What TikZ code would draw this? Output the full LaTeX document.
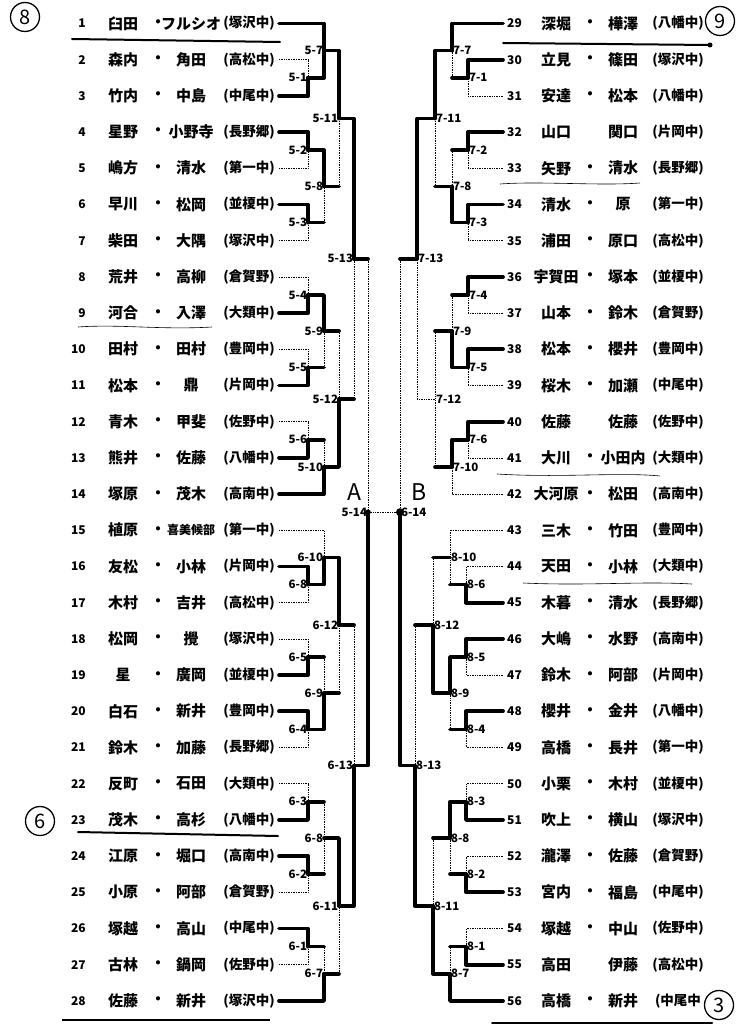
\documentclass[tikz,border=0pt]{standalone}
\usepackage{fontspec}
\setmainfont{Noto Sans CJK JP}
\usetikzlibrary{calc}
\pgfmathdeclarefunction{ry}{1}{\pgfmathparse{23.5+(#1-1)*36.2}}
\tikzset{
  win/.style={line width=3.7pt, line join=round, line cap=round},
  lose/.style={line width=0.7pt, densely dotted},
  num/.style={font=\fontsize{12}{12}\selectfont\bfseries, inner sep=0pt},
  nm/.style={font=\fontsize{15}{15}\selectfont\bfseries, inner sep=0pt},
  sc/.style={font=\fontsize{13.5}{14}\selectfont\bfseries, inner sep=0pt},
  lab/.style={font=\fontsize{11.5}{12}\selectfont\bfseries, inner sep=0.8pt},
  hand/.style={line width=2pt, line cap=round},
  thinhand/.style={line width=0.6pt},
  ring/.style={circle, draw, line width=1.3pt, minimum size=29pt, inner sep=0pt, font=\fontsize{20}{20}\selectfont},
  big/.style={font=\fontsize{23}{23}\selectfont, inner sep=0pt}
}
\newcommand\lrow[5]{%
  \node[num,anchor=east] (ln#1) at (86,{ry(#1)}) {#1};
  \node[nm] (la#1) at (123,{ry(#1)}) {#2};
  \node[nm] (ld#1) at (158,{ry(#1)}) {#3};
  \node[nm] (lb#1) at (191,{ry(#1)}) {#4};
  \node[sc] (ls#1) at (249,{ry(#1)}) {#5};
  \coordinate (e#1) at (279,{ry(#1)});}
\newcommand\rrow[5]{%
  \node[num,anchor=west] (ln#1) at (507,{ry(#1-28)}) {#1};
  \node[nm] (la#1) at (556,{ry(#1-28)}) {#2};
  \node[nm] (ld#1) at (590,{ry(#1-28)}) {#3};
  \node[nm] (lb#1) at (623,{ry(#1-28)}) {#4};
  \node[sc] (ls#1) at (678,{ry(#1-28)}) {#5};
  \coordinate (e#1) at (503,{ry(#1-28)});}
\newcommand\feed[3]{\draw[#1] (#2) -| (#3);}
\newcommand\feedd[4]{\draw[#1] (#3) -- (#3 -| #4); \draw[#2] (#3 -| #4) -- (#4);}
\newcommand\lmatch[4]{\coordinate (m#1) at (#2,{ry(#3)}); \node[lab,anchor=east] (t#1) at (m#1) {#4};}
\newcommand\rmatch[4]{\coordinate (m#1) at (#2,{ry(#3)}); \node[lab,anchor=west] (t#1) at (m#1) {#4};}
\begin{document}
\begin{tikzpicture}[x=1pt,y=-1pt]
\useasboundingbox (0,0) rectangle (747,1027);
% ---------- left entries ----------
\lrow{1}{臼田}{・}{フルシオ}{(塚沢中)}
\lrow{2}{森内}{・}{角田}{(高松中)}
\lrow{3}{竹内}{・}{中島}{(中尾中)}
\lrow{4}{星野}{・}{小野寺}{(長野郷)}
\lrow{5}{嶋方}{・}{清水}{(第一中)}
\lrow{6}{早川}{・}{松岡}{(並榎中)}
\lrow{7}{柴田}{・}{大隅}{(塚沢中)}
\lrow{8}{荒井}{・}{高柳}{(倉賀野)}
\lrow{9}{河合}{・}{入澤}{(大類中)}
\lrow{10}{田村}{・}{田村}{(豊岡中)}
\lrow{11}{松本}{・}{鼎}{(片岡中)}
\lrow{12}{青木}{・}{甲斐}{(佐野中)}
\lrow{13}{熊井}{・}{佐藤}{(八幡中)}
\lrow{14}{塚原}{・}{茂木}{(高南中)}
\lrow{15}{植原}{・}{{\fontsize{12}{12}\selectfont 喜美候部}}{(第一中)}
\lrow{16}{友松}{・}{小林}{(片岡中)}
\lrow{17}{木村}{・}{吉井}{(高松中)}
\lrow{18}{松岡}{・}{攪}{(塚沢中)}
\lrow{19}{星}{・}{廣岡}{(並榎中)}
\lrow{20}{白石}{・}{新井}{(豊岡中)}
\lrow{21}{鈴木}{・}{加藤}{(長野郷)}
\lrow{22}{反町}{・}{石田}{(大類中)}
\lrow{23}{茂木}{・}{高杉}{(八幡中)}
\lrow{24}{江原}{・}{堀口}{(高南中)}
\lrow{25}{小原}{・}{阿部}{(倉賀野)}
\lrow{26}{塚越}{・}{高山}{(中尾中)}
\lrow{27}{古林}{・}{鍋岡}{(佐野中)}
\lrow{28}{佐藤}{・}{新井}{(塚沢中)}
% ---------- right entries ----------
\rrow{29}{深堀}{・}{樺澤}{(八幡中)}
\rrow{30}{立見}{・}{篠田}{(塚沢中)}
\rrow{31}{安達}{・}{松本}{(八幡中)}
\rrow{32}{山口}{}{関口}{(片岡中)}
\rrow{33}{矢野}{・}{清水}{(長野郷)}
\rrow{34}{清水}{・}{原}{(第一中)}
\rrow{35}{浦田}{・}{原口}{(高松中)}
\rrow{36}{宇賀田}{・}{塚本}{(並榎中)}
\rrow{37}{山本}{・}{鈴木}{(倉賀野)}
\rrow{38}{松本}{・}{櫻井}{(豊岡中)}
\rrow{39}{桜木}{・}{加瀬}{(中尾中)}
\rrow{40}{佐藤}{}{佐藤}{(佐野中)}
\rrow{41}{大川}{・}{小田内}{(大類中)}
\rrow{42}{大河原}{・}{松田}{(高南中)}
\rrow{43}{三木}{・}{竹田}{(豊岡中)}
\rrow{44}{天田}{・}{小林}{(大類中)}
\rrow{45}{木暮}{・}{清水}{(長野郷)}
\rrow{46}{大嶋}{・}{水野}{(高南中)}
\rrow{47}{鈴木}{・}{阿部}{(片岡中)}
\rrow{48}{櫻井}{・}{金井}{(八幡中)}
\rrow{49}{高橋}{・}{長井}{(第一中)}
\rrow{50}{小栗}{・}{木村}{(並榎中)}
\rrow{51}{吹上}{・}{横山}{(塚沢中)}
\rrow{52}{瀧澤}{・}{佐藤}{(倉賀野)}
\rrow{53}{宮内}{・}{福島}{(中尾中)}
\rrow{54}{塚越}{・}{中山}{(佐野中)}
\rrow{55}{高田}{}{伊藤}{(高松中)}
\rrow{56}{高橋}{・}{新井}{(中尾中}
% ---------- left matches ----------
\lmatch{51}{308}{2.5}{5-1}
\lmatch{57}{324}{1.75}{5-7}
\lmatch{52}{308}{4.5}{5-2}
\lmatch{53}{308}{6.5}{5-3}
\lmatch{58}{324}{5.5}{5-8}
\lmatch{511}{339}{3.625}{5-11}
\lmatch{54}{308}{8.5}{5-4}
\lmatch{55}{308}{10.5}{5-5}
\lmatch{59}{324}{9.5}{5-9}
\lmatch{56}{308}{12.5}{5-6}
\lmatch{510}{324}{13.25}{5-10}
\lmatch{512}{339}{11.375}{5-12}
\lmatch{513}{354}{7.5}{5-13}
\lmatch{68a}{308}{16.5}{6-8}
\lmatch{610}{324}{15.75}{6-10}
\lmatch{65}{308}{18.5}{6-5}
\lmatch{64}{308}{20.5}{6-4}
\lmatch{69}{324}{19.5}{6-9}
\lmatch{612}{339}{17.625}{6-12}
\lmatch{63}{308}{22.5}{6-3}
\lmatch{62}{308}{24.5}{6-2}
\lmatch{68b}{324}{23.5}{6-8}
\lmatch{61}{308}{26.5}{6-1}
\lmatch{67}{324}{27.25}{6-7}
\lmatch{611}{339}{25.375}{6-11}
\lmatch{613}{354}{21.5}{6-13}
\lmatch{514}{368}{14.5}{5-14}
% ---------- right matches ----------
\rmatch{71}{468}{2.5}{7-1}
\rmatch{77}{452}{1.75}{7-7}
\rmatch{72}{468}{4.5}{7-2}
\rmatch{73}{468}{6.5}{7-3}
\rmatch{78}{452}{5.5}{7-8}
\rmatch{711}{435}{3.625}{7-11}
\rmatch{74}{468}{8.5}{7-4}
\rmatch{75}{468}{10.5}{7-5}
\rmatch{79}{452}{9.5}{7-9}
\rmatch{76}{468}{12.5}{7-6}
\rmatch{710}{452}{13.25}{7-10}
\rmatch{712}{435}{11.375}{7-12}
\rmatch{713}{417}{7.5}{7-13}
\rmatch{86}{466}{16.5}{8-6}
\rmatch{810}{450}{15.75}{8-10}
\rmatch{85}{466}{18.5}{8-5}
\rmatch{84}{466}{20.5}{8-4}
\rmatch{89}{450}{19.5}{8-9}
\rmatch{812}{433}{17.625}{8-12}
\rmatch{83}{466}{22.5}{8-3}
\rmatch{82}{466}{24.5}{8-2}
\rmatch{88}{450}{23.5}{8-8}
\rmatch{81}{466}{26.5}{8-1}
\rmatch{87}{450}{27.25}{8-7}
\rmatch{811}{433}{25.375}{8-11}
\rmatch{813}{415}{21.5}{8-13}
\rmatch{614}{400}{14.5}{6-14}
% ---------- left connectors ----------
\feed{win}{e1}{m57}
\feed{lose}{e2}{m51}
\feed{win}{e3}{m51}
\feed{win}{m51}{m57}
\feed{win}{m57}{m511}
\feed{win}{e4}{m52}
\feed{lose}{e5}{m52}
\feed{win}{m52}{m58}
\feed{win}{e6}{m53}
\feed{lose}{e7}{m53}
\feedd{win}{lose}{m53}{m58}
\feedd{win}{lose}{m58}{m511}
\feed{win}{m511}{m513}
\feed{lose}{e8}{m54}
\feed{win}{e9}{m54}
\feed{win}{m54}{m59}
\feed{lose}{e10}{m55}
\feed{win}{e11}{m55}
\feedd{win}{lose}{m55}{m59}
\feedd{win}{lose}{m59}{m512}
\feed{lose}{e12}{m56}
\feed{win}{e13}{m56}
\feedd{win}{lose}{m56}{m510}
\feed{win}{e14}{m510}
\feed{win}{m510}{m512}
\feedd{win}{lose}{m512}{m513}
\feedd{win}{lose}{m513}{m514}
\feed{lose}{e15}{m610}
\feed{win}{e16}{m68a}
\feed{lose}{e17}{m68a}
\feed{win}{m68a}{m610}
\feed{win}{m610}{m612}
\feed{lose}{e18}{m65}
\feed{win}{e19}{m65}
\feedd{win}{lose}{m65}{m69}
\feed{win}{e20}{m64}
\feed{lose}{e21}{m64}
\feed{win}{m64}{m69}
\feedd{win}{lose}{m69}{m612}
\feedd{win}{lose}{m612}{m613}
\feed{lose}{e22}{m63}
\feed{win}{e23}{m63}
\feedd{win}{lose}{m63}{m68b}
\feed{win}{e24}{m62}
\feed{lose}{e25}{m62}
\feedd{win}{lose}{m62}{m68b}
\feed{win}{m68b}{m611}
\feed{win}{e26}{m61}
\feed{lose}{e27}{m61}
\feedd{win}{lose}{m61}{m67}
\feed{win}{e28}{m67}
\feedd{win}{lose}{m67}{m611}
\feed{win}{m611}{m613}
\feed{win}{m613}{m514}
\draw[lose] (m514) -- (m614);
% ---------- right connectors ----------
\feed{win}{e29}{m77}
\feed{win}{e30}{m71}
\feed{lose}{e31}{m71}
\feedd{win}{lose}{m71}{m77}
\feed{win}{m77}{m711}
\feed{win}{e32}{m72}
\feed{lose}{e33}{m72}
\feedd{win}{lose}{m72}{m78}
\feed{win}{e34}{m73}
\feed{lose}{e35}{m73}
\feed{win}{m73}{m78}
\feedd{win}{lose}{m78}{m711}
\feed{win}{m711}{m713}
\feed{win}{e36}{m74}
\feed{lose}{e37}{m74}
\feedd{win}{lose}{m74}{m79}
\feed{win}{e38}{m75}
\feed{lose}{e39}{m75}
\feed{win}{m75}{m79}
\feedd{win}{lose}{m79}{m712}
\feed{win}{e40}{m76}
\feed{lose}{e41}{m76}
\feed{win}{m76}{m710}
\feed{lose}{e42}{m710}
\feedd{win}{lose}{m710}{m712}
\feed{lose}{m712}{m713}
\feedd{win}{lose}{m713}{m614}
\feed{lose}{e43}{m810}
\feed{lose}{e44}{m86}
\feed{win}{e45}{m86}
\feedd{win}{lose}{m86}{m810}
\feedd{win}{lose}{m810}{m812}
\feed{win}{e46}{m85}
\feed{lose}{e47}{m85}
\feed{win}{m85}{m89}
\feed{win}{e48}{m84}
\feed{lose}{e49}{m84}
\feedd{win}{lose}{m84}{m89}
\feed{win}{m89}{m812}
\feedd{win}{lose}{m812}{m813}
\feed{lose}{e50}{m83}
\feed{win}{e51}{m83}
\feed{win}{m83}{m88}
\feed{lose}{e52}{m82}
\feed{win}{e53}{m82}
\feedd{win}{lose}{m82}{m88}
\feedd{win}{lose}{m88}{m811}
\feed{lose}{e54}{m81}
\feed{win}{e55}{m81}
\feedd{win}{lose}{m81}{m87}
\feed{win}{e56}{m87}
\feed{win}{m87}{m811}
\feed{win}{m811}{m813}
\feed{win}{m813}{m614}
\fill (m514) circle (2.8pt);
\fill (m614) circle (4pt);
% ---------- A / B ----------
\node[big] (bigA) at (354,492) {A};
\node[big] (bigB) at (419,492) {B};
% ---------- handwritten marks ----------
\node[ring] (c8) at (25,17) {8};
\node[ring] (c6) at (40,821) {6};
\node[ring] (c9) at (720,21) {9};
\node[ring] (c3) at (719,1005) {3};
\draw[hand] (72,39) -- (280,42);
\draw[hand] (78,832) -- (278,836);
\draw[line width=1.5pt] (62,1020) -- (270,1020);
\draw[hand] (503,43) -- (710,45);
\fill (710,45) circle (2.5pt);
\draw[hand] (492,1023) -- (712,1023);
\draw[thinhand] (78,327) .. controls (120,324) and (160,330) .. (212,327);
\draw[thinhand] (500,184) .. controls (540,181) and (600,186) .. (640,183);
\draw[thinhand] (497,474) .. controls (560,478) and (620,472) .. (660,476);
\draw[thinhand] (523,583) .. controls (590,586) and (640,581) .. (692,584);
\end{tikzpicture}
\end{document}
